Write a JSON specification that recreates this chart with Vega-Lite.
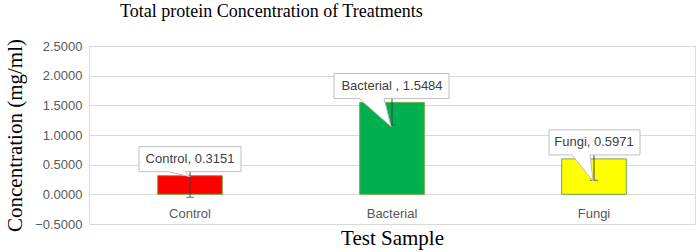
{
  "$schema": "https://vega.github.io/schema/vega-lite/v6.json",
  "autosize": "none",
  "padding": {"left": 89, "top": 46, "right": 5, "bottom": 28},
  "width": 606,
  "height": 178,
  "background": "white",
  "title": {
    "text": "Total protein Concentration of Treatments",
    "font": "Liberation Serif",
    "fontSize": 18,
    "fontWeight": "normal",
    "color": "#000000",
    "anchor": "start",
    "frame": "group",
    "dx": 31,
    "offset": 17
  },
  "data": {
    "values": [
      {"sample": "Control", "value": 0.3151, "err": 0.365, "label": "Control, 0.3151"},
      {"sample": "Bacterial", "value": 1.5484, "err": 0.38, "label": "Bacterial , 1.5484"},
      {"sample": "Fungi", "value": 0.5971, "err": 0.36, "label": "Fungi, 0.5971"}
    ]
  },
  "encoding": {
    "x": {
      "field": "sample",
      "type": "nominal",
      "sort": ["Control", "Bacterial", "Fungi"],
      "scale": {"type": "band", "domain": ["Control", "Bacterial", "Fungi"], "paddingInner": 0.68, "paddingOuter": 0.34},
      "axis": {
        "title": "Test Sample",
        "titleFont": "Liberation Serif",
        "titleFontSize": 21,
        "titleFontWeight": "normal",
        "titleColor": "#000000",
        "titlePadding": 7,
        "labelFont": "Liberation Sans",
        "labelFontSize": 13,
        "labelColor": "#595959",
        "labelAngle": 0,
        "labelPadding": 3,
        "domain": false,
        "ticks": false,
        "grid": false,
        "offset": -20
      }
    },
    "y": {
      "field": "value",
      "type": "quantitative",
      "scale": {"domain": [-0.5, 2.5], "nice": false, "zero": false},
      "axis": {
        "title": "Concentration (mg/ml)",
        "titleFont": "Liberation Serif",
        "titleFontSize": 21,
        "titleFontWeight": "normal",
        "titleColor": "#000000",
        "titlePadding": 9,
        "values": [-0.5, 0, 0.5, 1, 1.5, 2, 2.5],
        "format": ".4f",
        "labelFont": "Liberation Sans",
        "labelFontSize": 13,
        "labelColor": "#595959",
        "labelPadding": 7,
        "labelOverlap": false,
        "domain": false,
        "ticks": false,
        "grid": true,
        "gridColor": "#D9D9D9",
        "gridWidth": 1
      }
    }
  },
  "layer": [
    {
      "mark": {"type": "bar", "stroke": "#70AD47", "strokeWidth": 1},
      "encoding": {
        "color": {
          "field": "sample",
          "type": "nominal",
          "scale": {"domain": ["Control", "Bacterial", "Fungi"], "range": ["#FF0000", "#00B050", "#FFFF00"]},
          "legend": null
        }
      }
    },
    {
      "mark": {"type": "errorbar", "ticks": {"size": 8}, "color": "#404040", "thickness": 1},
      "encoding": {
        "yError": {"field": "err"}
      }
    },
    {
      "mark": {"type": "point", "filled": true, "fill": "#FFFFFF", "stroke": "#BFBFBF", "strokeWidth": 1, "opacity": 1, "size": 4},
      "encoding": {
        "shape": {
          "field": "sample",
          "type": "nominal",
          "scale": {
            "domain": ["Control", "Bacterial", "Fungi"],
            "range": [
              "M-51,-29L51,-29L51,-4L-5,-4L0,1L-22,-4L-51,-4Z",
              "M-58,-29L57,-29L57,-4L-8,-4L-1,24L-33,-4L-58,-4Z",
              "M-45,-29L46,-29L46,-4L-4,-4L-1,22L-22,-4L-45,-4Z"
            ]
          },
          "legend": null
        }
      }
    },
    {
      "mark": {"type": "text", "font": "Liberation Sans", "fontSize": 13, "color": "#404040", "baseline": "middle", "align": "center", "dy": -16.5},
      "encoding": {
        "text": {"field": "label", "type": "nominal"}
      }
    }
  ]
}
